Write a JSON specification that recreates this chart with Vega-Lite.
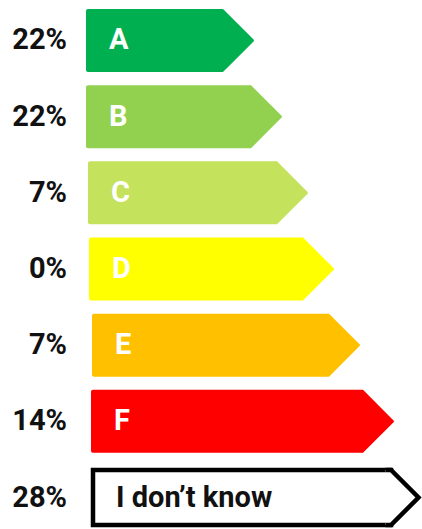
{
  "$schema": "https://vega.github.io/schema/vega-lite/v6.json",
  "width": 422,
  "height": 520,
  "padding": {"left": 0, "right": 0, "top": 9, "bottom": 0},
  "autosize": {"type": "none"},
  "config": {"view": {"stroke": null}, "font": "Roboto"},
  "data": {
    "values": [
      {"label": "A", "pct": "22%", "start": 86, "end": 223},
      {"label": "B", "pct": "22%", "start": 86, "end": 251},
      {"label": "C", "pct": "7%", "start": 88, "end": 277},
      {"label": "D", "pct": "0%", "start": 89, "end": 303},
      {"label": "E", "pct": "7%", "start": 92, "end": 329},
      {"label": "F", "pct": "14%", "start": 91, "end": 363},
      {"label": "I don’t know", "pct": "28%", "start": 93, "end": 391}
    ]
  },
  "encoding": {
    "y": {
      "field": "label",
      "type": "nominal",
      "sort": null,
      "axis": null,
      "scale": {"paddingInner": 0.173, "paddingOuter": 0}
    }
  },
  "layer": [
    {
      "transform": [{"filter": "datum.label !== 'I don’t know'"}],
      "mark": {"type": "bar", "cornerRadius": 2},
      "encoding": {
        "x": {"field": "start", "type": "quantitative", "axis": null, "scale": {"domain": [0, 422], "zero": false, "nice": false}},
        "x2": {"field": "end"},
        "color": {
          "field": "label",
          "type": "nominal",
          "legend": null,
          "scale": {
            "domain": ["A", "B", "C", "D", "E", "F"],
            "range": ["#00b050", "#92d050", "#c4e25c", "#ffff00", "#ffc000", "#ff0000"]
          }
        }
      }
    },
    {
      "transform": [{"filter": "datum.label !== 'I don’t know'"}],
      "mark": {"type": "point", "shape": "M-0.06,-1 L0,-1 L0.97,-0.03 Q1,0 0.97,0.03 L0,1 L-0.06,1 Z", "size": 3969, "filled": true, "opacity": 1},
      "encoding": {
        "x": {"field": "end", "type": "quantitative"},
        "color": {"field": "label", "type": "nominal", "legend": null}
      }
    },
    {
      "transform": [{"filter": "datum.label === 'I don’t know'"}],
      "mark": {"type": "bar", "height": 55, "fill": "white", "stroke": "black", "strokeWidth": 4.5, "strokeJoin": "miter"},
      "encoding": {
        "x": {"field": "start", "type": "quantitative"},
        "x2": {"field": "end"}
      }
    },
    {
      "transform": [{"filter": "datum.label === 'I don’t know'"}],
      "mark": {"type": "point", "shape": "M-0.2,-1 L0,-1 L1,0 L0,1 L-0.2,1", "size": 3025, "filled": true, "fill": "white", "stroke": "black", "strokeWidth": 4.5, "strokeJoin": "miter", "opacity": 1},
      "encoding": {
        "x": {"field": "end", "type": "quantitative"}
      }
    },
    {
      "mark": {"type": "text", "align": "right", "baseline": "middle", "fontSize": 29, "fontWeight": "bold", "color": "#111111"},
      "encoding": {
        "x": {"datum": 67},
        "text": {"field": "pct"}
      }
    },
    {
      "mark": {"type": "text", "align": "left", "baseline": "middle", "fontSize": 29, "fontWeight": "bold", "dx": 23},
      "encoding": {
        "x": {"field": "start", "type": "quantitative"},
        "text": {"field": "label"},
        "color": {
          "condition": {"test": "datum.label === 'I don’t know'", "value": "#111111"},
          "value": "white"
        }
      }
    }
  ]
}
